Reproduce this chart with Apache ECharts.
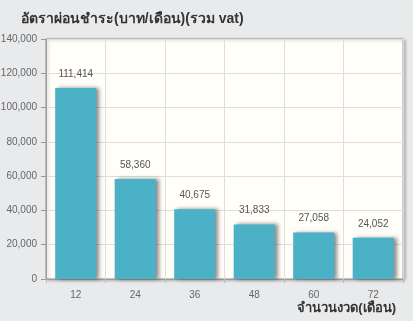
<!DOCTYPE html>
<html><head><meta charset="utf-8">
<script src="https://cdn.jsdelivr.net/npm/echarts@6/dist/echarts.min.js"></script>
<style>html,body{margin:0;padding:0;background:#E9EAEC;}#c{width:413px;height:321px;}</style>
</head><body><div id="c"></div>
<script>
var titleText = 'อัตราผ่อนชำระ(บาท/เดือน)(รวม vat)';
var xName = 'จำนวนงวด(เดือน)';
var categories = ['12','24','36','48','60','72'];
var values = [111414, 58360, 40675, 31833, 27058, 24052];
var yMin = 0, yMax = 140000, yStep = 20000;

var chart = echarts.init(document.getElementById('c'), null, {renderer:'canvas'});
chart.setOption({
  backgroundColor: '#E9EAEC',
  animation: false,
  title: [{
    text: titleText, left: 16, top: 7,
    textStyle: {fontSize: 14, fontWeight: 'bold', color: '#333'}
  }, {
    text: xName, right: 12, bottom: 1,
    textStyle: {fontSize: 13, fontWeight: 'bold', color: '#333'}
  }],
  grid: {
    left: 46, right: 10, top: 39, bottom: 42,
    containLabel: false, outerBoundsMode: 'none',
    show: true, backgroundColor: '#FFFEF8', borderColor: '#9A9A9A', borderWidth: 1,
    shadowColor: 'rgba(0,0,0,0.25)', shadowBlur: 3, shadowOffsetX: 2, shadowOffsetY: 1
  },
  xAxis: {
    type: 'category', data: categories,
    axisLine: {show: true, lineStyle: {color: '#9A9A9A'}},
    axisTick: {show: true, length: 4, lineStyle: {color: '#BBB'}},
    axisLabel: {fontSize: 10, color: '#666', margin: 11},
    splitLine: {show: true, lineStyle: {color: '#DEDEDE', width: 1}}
  },
  yAxis: {
    type: 'value', min: yMin, max: yMax, interval: yStep,
    axisLine: {show: true, lineStyle: {color: '#9A9A9A'}},
    axisTick: {show: true, length: 5, lineStyle: {color: '#9A9A9A'}},
    axisLabel: {fontSize: 10, color: '#666', margin: 9,
      formatter: function(v){ return v.toLocaleString('en-US'); }},
    splitLine: {show: true, lineStyle: {color: '#DEDEDE', width: 1}}
  },
  series: [{
    type: 'bar', data: values, barWidth: '69%',
    itemStyle: {color: '#4AB1C6', shadowColor: 'rgba(0,0,0,0.45)', shadowBlur: 4, shadowOffsetX: 3, shadowOffsetY: 0},
    label: {show: true, position: 'top', distance: 9, fontSize: 10, color: '#555',
      formatter: function(p){ return p.value.toLocaleString('en-US'); }}
  }]
});
</script></body></html>
